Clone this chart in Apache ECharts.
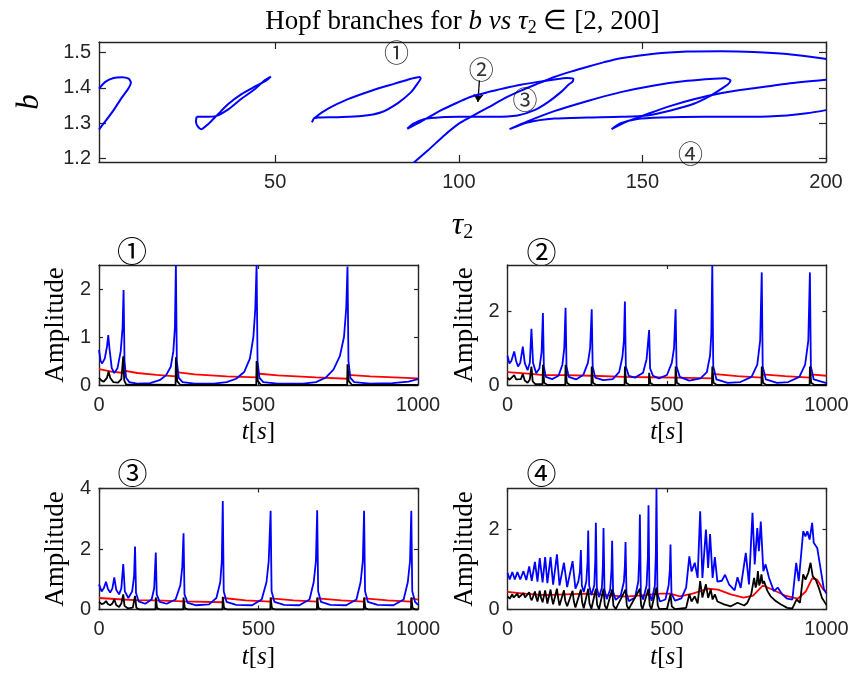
<!DOCTYPE html>
<html><head><meta charset="utf-8">
<script src="https://cdn.jsdelivr.net/npm/echarts@6/dist/echarts.min.js"></script>
<style>html,body{margin:0;padding:0;background:#fff}#c{width:855px;height:679px}</style>
</head><body><div id="c"></div>
<script>
// ---------- tick values ----------
const TOP_XTICKS = [50, 100, 150, 200];
const TOP_YTICKS = [1.2, 1.3, 1.4, 1.5];
const T_TICKS = [0, 500, 1000];
const AMP1_TICKS = [0, 1, 2];
const AMP2_TICKS = [0, 2];
const AMP3_TICKS = [0, 2, 4];
const AMP4_TICKS = [0, 2];

// ---------- Hopf branches (tau2, b) ----------
const loopA = [[2,1.398],[3.71,1.417],[5.98,1.428],[8.24,1.430],[10.05,1.426],[10.69,1.415],[10.05,1.399],[8.24,1.373],[5.98,1.337],[3.71,1.305],[2,1.282]];
const loopB = [[28.6,1.318],[30.9,1.318],[33.8,1.320],[37.2,1.339],[40.9,1.370],[44.5,1.397],[47.2,1.422],[48.8,1.432],[47.6,1.421],[44.5,1.404],[40.9,1.383],[37.2,1.354],[34.1,1.322],[31.8,1.298],[29.8,1.283],[28.9,1.291],[28.4,1.305],[28.6,1.318]];
const loopC = [[60.0,1.302],[60.6,1.314],[64.4,1.341],[69.8,1.368],[76.2,1.392],[82.5,1.412],[87.0,1.426],[89.3,1.431],[89.6,1.427],[88.6,1.410],[87.0,1.388],[83.4,1.357],[78.9,1.331],[73.5,1.320],[67.1,1.317],[61.7,1.316],[60.4,1.314]];
const steepArc = [[86.6,1.178],[91.6,1.223],[96.1,1.266],[100.2,1.300],[103.3,1.318],[107.9,1.344],[112.4,1.370],[116.9,1.392],[121.5,1.412],[126.0,1.431],[130.5,1.446],[135.1,1.460],[139.6,1.473],[144.1,1.484],[153.2,1.497],[162.2,1.503],[171.3,1.504],[180.3,1.502],[189.4,1.496],[200,1.482]];
const loop2 = [[85.96,1.284],[89.8,1.305],[95.2,1.337],[100.2,1.361],[103.3,1.375],[107.9,1.388],[112.4,1.399],[116.9,1.409],[121.5,1.417],[126.0,1.424],[129.6,1.428],[131.2,1.426],[131.0,1.418],[130.0,1.410],[127.8,1.388],[124.2,1.359],[120.6,1.337],[116.0,1.322],[109.7,1.318],[103.3,1.318],[100.2,1.318],[95.2,1.317],[90.7,1.312],[87.5,1.298],[85.96,1.284]];
const loop3 = [[113.8,1.283],[118.7,1.305],[126.0,1.334],[135.1,1.363],[144.1,1.388],[153.2,1.407],[162.2,1.420],[169.5,1.426],[172.5,1.427],[174.0,1.421],[173.3,1.410],[172.2,1.402],[168.6,1.378],[164.0,1.355],[157.7,1.336],[151.4,1.322],[144.1,1.318],[135.1,1.316],[126.0,1.313],[118.7,1.302],[113.8,1.283]];
const curve4 = [[200,1.423],[189.4,1.412],[180.3,1.399],[171.3,1.385],[164.0,1.368],[157.7,1.349],[151.4,1.326],[145.9,1.305],[141.6,1.283],[144.1,1.300],[148.6,1.312],[155.0,1.316],[166.8,1.318],[180.3,1.318],[189.4,1.322],[194.8,1.328],[200,1.337]];
const annot = [[83.0,1.499,'①'],[106.1,1.453,'②'],[118.0,1.366,'③'],[163.1,1.213,'④']];
const arrow2 = [[105.6,1.421],[105.2,1.36]];

// ---------- time series (t, amplitude) ----------
const blue1 = [[0,0.73],[5,0.5],[10,0.45],[18,0.55],[25,0.8],[29,1.04],[33,0.75],[40,0.35],[48,0.25],[58,0.35],[68,0.7],[74,1.2],[77,1.98],[80,0.5],[85,0.15],[95,0.06],[120,0.03],[160,0.04],[190,0.1],[210,0.2],[225,0.38],[233,0.7],[238,1.2],[241,2.5],[244,0.5],[250,0.15],[262,0.06],[300,0.03],[360,0.03],[400,0.06],[430,0.13],[455,0.27],[473,0.55],[484,1.0],[490,1.6],[494,2.5],[497,0.5],[503,0.15],[515,0.06],[560,0.03],[640,0.03],[680,0.06],[710,0.15],[735,0.32],[755,0.6],[768,1.0],[775,1.6],[779,2.47],[782,0.5],[788,0.15],[800,0.06],[850,0.03],[920,0.04],[970,0.07],[1000,0.12]];
const red1 = [[0,0.33],[40,0.28],[77,0.25],[78,0.3],[120,0.25],[180,0.21],[241,0.18],[242,0.27],[300,0.22],[400,0.18],[494,0.16],[495,0.24],[560,0.2],[680,0.16],[779,0.13],[780,0.21],[850,0.18],[1000,0.14]];
const black1 = [[0,0.15],[8,0.09],[15,0.07],[25,0.15],[30,0.28],[35,0.15],[45,0.06],[60,0.05],[70,0.12],[76,0.6],[79,0.1],[85,0.01],[240,0],[241,0.58],[245,0.08],[255,0],[493,0],[494,0.5],[498,0.08],[508,0],[778,0],[779,0.43],[783,0.08],[793,0],[1000,0]];

const blue2 = [[0,0.79],[6,0.58],[12,0.65],[21,0.91],[27,0.65],[33,0.5],[40,0.6],[48,1.04],[54,0.6],[63,0.4],[70,0.6],[75,1.52],[80,0.6],[90,0.32],[100,0.45],[107,0.9],[111,1.95],[114,0.5],[120,0.22],[140,0.16],[160,0.25],[172,0.55],[178,1.0],[182,2.09],[185,0.5],[192,0.22],[215,0.15],[238,0.28],[252,0.6],[259,1.0],[264,2.05],[267,0.5],[275,0.2],[300,0.13],[330,0.16],[350,0.35],[360,0.75],[365,1.2],[368,2.26],[371,0.5],[380,0.25],[400,0.2],[425,0.33],[436,0.7],[444,1.49],[447,0.45],[456,0.25],[475,0.18],[500,0.27],[515,0.6],[522,1.0],[527,2.05],[530,0.5],[540,0.22],[570,0.12],[605,0.18],[625,0.35],[635,0.8],[639,1.4],[642,3.25],[645,0.5],[655,0.15],[690,0.06],[730,0.08],[765,0.22],[783,0.55],[792,1.2],[797,3.05],[800,0.5],[810,0.15],[845,0.06],[880,0.08],[915,0.22],[933,0.55],[943,1.2],[948,3.05],[951,0.5],[960,0.15],[1000,0.05]];
const red2 = [[0,0.35],[75,0.3],[111,0.27],[112,0.3],[182,0.27],[183,0.28],[264,0.25],[368,0.22],[369,0.25],[444,0.21],[527,0.2],[642,0.18],[643,0.3],[720,0.24],[797,0.2],[798,0.29],[870,0.24],[948,0.2],[949,0.29],[1000,0.25]];
const black2 = [[0,0.2],[6,0.14],[12,0.16],[21,0.27],[27,0.15],[33,0.1],[42,0.16],[48,0.3],[54,0.12],[63,0.06],[70,0.15],[75,0.5],[79,0.1],[88,0.02],[110,0.02],[111,0.55],[115,0.06],[125,0],[181,0],[182,0.55],[186,0.06],[196,0],[263,0],[264,0.5],[268,0.06],[278,0],[367,0],[368,0.5],[372,0.06],[382,0],[443,0],[444,0.33],[448,0.05],[458,0],[526,0],[527,0.5],[531,0.06],[541,0],[641,0],[642,0.5],[646,0.06],[656,0],[796,0],[797,0.5],[801,0.06],[811,0],[947,0],[948,0.5],[952,0.06],[962,0],[1000,0]];

const blue3 = [[0,0.83],[8,0.6],[15,0.7],[22,0.92],[28,0.68],[35,0.56],[42,0.7],[48,1.06],[54,0.65],[63,0.5],[70,0.7],[76,1.5],[81,0.6],[92,0.38],[104,0.6],[110,1.1],[113,2.08],[116,0.55],[124,0.27],[145,0.19],[165,0.33],[173,0.7],[178,1.88],[181,0.5],[190,0.25],[212,0.19],[240,0.33],[255,0.8],[261,1.4],[265,2.52],[268,0.5],[278,0.22],[305,0.14],[345,0.17],[368,0.38],[380,0.9],[385,1.6],[388,3.59],[391,0.6],[400,0.25],[430,0.15],[480,0.14],[510,0.33],[525,0.9],[532,1.6],[538,3.26],[541,0.6],[550,0.25],[580,0.15],[628,0.14],[660,0.33],[673,0.9],[680,1.6],[684,3.28],[687,0.6],[696,0.25],[725,0.15],[775,0.14],[807,0.33],[820,0.9],[827,1.6],[831,3.26],[834,0.6],[843,0.25],[873,0.15],[923,0.14],[955,0.33],[968,0.9],[975,1.6],[979,3.26],[982,0.6],[991,0.25],[1000,0.15]];
const red3 = [[0,0.38],[76,0.33],[113,0.31],[114,0.35],[178,0.3],[179,0.31],[265,0.27],[266,0.3],[388,0.24],[389,0.38],[460,0.3],[538,0.26],[539,0.37],[610,0.3],[684,0.26],[685,0.37],[760,0.3],[831,0.26],[832,0.37],[905,0.3],[979,0.26],[980,0.37],[1000,0.33]];
const black3 = [[0,0.25],[8,0.18],[15,0.2],[22,0.28],[28,0.18],[35,0.14],[42,0.2],[48,0.33],[54,0.15],[63,0.08],[70,0.2],[76,0.5],[80,0.12],[90,0.04],[106,0.06],[113,0.45],[117,0.06],[127,0],[177,0],[178,0.4],[182,0.05],[192,0],[264,0],[265,0.4],[269,0.05],[279,0],[387,0],[388,0.42],[392,0.05],[402,0],[537,0],[538,0.4],[542,0.05],[552,0],[683,0],[684,0.4],[688,0.05],[698,0],[830,0],[831,0.4],[835,0.05],[845,0],[978,0],[979,0.4],[983,0.05],[993,0],[1000,0]];

const blue4 = [[0,0.92],[7,0.75],[15,0.94],[23,0.75],[31,0.94],[40,0.75],[50,0.96],[59,0.74],[68,1.08],[76,0.72],[86,1.19],[94,0.7],[101,1.29],[110,0.68],[118,1.31],[125,0.66],[135,1.31],[143,0.62],[155,1.38],[163,0.6],[177,1.17],[187,0.56],[204,1.21],[213,0.52],[222,0.7],[227,0.95],[230,1.49],[233,0.6],[239,0.44],[247,0.7],[251,1.2],[253,1.98],[256,0.6],[263,0.36],[272,0.6],[275,1.2],[277,2.17],[280,0.55],[287,0.31],[296,0.55],[299,1.1],[301,2.04],[304,0.5],[311,0.26],[322,0.5],[326,1.0],[328,1.72],[331,0.45],[339,0.24],[355,0.35],[365,0.7],[368,1.1],[370,1.69],[373,0.4],[380,0.21],[400,0.3],[410,0.7],[413,1.3],[415,2.38],[418,0.4],[425,0.25],[436,0.6],[440,1.3],[442,2.61],[445,0.4],[452,0.22],[462,0.6],[465,1.4],[467,3.03],[470,0.4],[478,0.2],[495,0.25],[505,0.6],[509,1.0],[511,1.63],[514,0.4],[525,0.22],[545,0.28],[560,0.55],[570,1.33],[577,0.95],[587,1.17],[596,0.79],[604,2.46],[611,0.79],[622,2.0],[629,1.04],[635,1.89],[643,0.79],[650,1.31],[658,0.7],[672,0.72],[682,0.87],[695,0.62],[712,0.48],[721,0.81],[731,0.54],[747,1.42],[757,0.63],[768,2.42],[775,1.13],[783,2.04],[788,1.46],[794,2.2],[802,0.96],[809,1.13],[820,0.79],[835,0.46],[847,0.55],[861,0.38],[877,0.27],[893,0.25],[905,1.17],[913,0.71],[927,1.96],[934,1.83],[940,1.96],[947,1.75],[955,2.17],[960,1.67],[971,1.54],[981,1.04],[992,0.5],[1000,0.4]];
const red4 = [[0,0.44],[60,0.39],[120,0.36],[180,0.38],[250,0.4],[310,0.36],[370,0.32],[430,0.36],[480,0.4],[510,0.4],[540,0.33],[580,0.4],[630,0.52],[660,0.5],[700,0.38],[740,0.3],[770,0.35],[800,0.6],[830,0.5],[870,0.35],[910,0.27],[935,0.45],[955,0.78],[970,0.75],[990,0.5],[1000,0.44]];
const black4 = [[0,0.33],[4,0.28],[7,0.27],[15,0.38],[19,0.3],[23,0.27],[31,0.4],[35,0.3],[40,0.26],[50,0.41],[55,0.3],[59,0.25],[68,0.43],[72,0.3],[76,0.23],[86,0.45],[90,0.3],[94,0.2],[101,0.47],[105,0.3],[110,0.18],[118,0.48],[122,0.3],[125,0.15],[135,0.5],[139,0.28],[143,0.13],[155,0.52],[159,0.28],[163,0.1],[177,0.48],[181,0.22],[187,0.08],[204,0.47],[208,0.2],[213,0.05],[230,0.5],[234,0.18],[239,0.03],[253,0.52],[257,0.15],[263,0.02],[277,0.52],[281,0.12],[287,0.01],[301,0.52],[305,0.1],[311,0.01],[328,0.5],[332,0.1],[339,0.01],[370,0.5],[374,0.1],[380,0.01],[415,0.52],[419,0.1],[423,0.01],[442,0.52],[446,0.1],[451,0.01],[467,0.55],[471,0.1],[476,0.01],[500,0.02],[511,0.38],[515,0.08],[525,0.01],[560,0.04],[570,0.38],[577,0.2],[587,0.33],[596,0.15],[604,0.71],[611,0.3],[622,0.63],[629,0.29],[637,0.5],[643,0.25],[650,0.38],[658,0.2],[679,0.13],[700,0.08],[721,0.17],[742,0.1],[752,0.17],[764,0.38],[773,0.79],[778,0.55],[781,0.63],[785,0.96],[789,0.6],[792,0.67],[796,0.88],[800,0.65],[804,0.71],[815,0.46],[825,0.33],[841,0.21],[856,0.13],[877,0.04],[893,0.03],[906,0.25],[917,0.17],[927,0.88],[934,0.75],[943,0.92],[950,1.17],[957,0.83],[966,0.75],[976,0.54],[986,0.29],[1000,0.11]];

// ---------- layout ----------
const AX = '#262626';
const SANS = 'Liberation Sans, Arial, sans-serif';
const SERIF = 'Liberation Serif, Times New Roman, serif';
const CJK = 'Noto Sans CJK JP';
const grids = [
  {left: 99, top: 42, width: 727, height: 120},
  {left: 99, top: 265, width: 319, height: 120},
  {left: 507.5, top: 265, width: 319, height: 120},
  {left: 99, top: 488.5, width: 319, height: 121},
  {left: 507.5, top: 488.5, width: 319, height: 121}
];
const axisDefs = [
  {xmin: 2, xmax: 200, xt: TOP_XTICKS, ymin: 1.19, ymax: 1.53, yt: TOP_YTICKS, tl: 7, yfmt: v => v.toFixed(1)},
  {xmin: 0, xmax: 1000, xt: T_TICKS, ymin: 0, ymax: 2.5, yt: AMP1_TICKS, tl: 4},
  {xmin: 0, xmax: 1000, xt: T_TICKS, ymin: 0, ymax: 3.25, yt: AMP2_TICKS, tl: 4},
  {xmin: 0, xmax: 1000, xt: T_TICKS, ymin: 0, ymax: 4, yt: AMP3_TICKS, tl: 4},
  {xmin: 0, xmax: 1000, xt: T_TICKS, ymin: 0, ymax: 3.03, yt: AMP4_TICKS, tl: 4}
];
const xAxes = [], yAxes = [];
axisDefs.forEach((d, gi) => {
  const line = {show: true, onZero: false, lineStyle: {color: AX, width: 1.4}};
  const tick = (vals) => ({show: true, inside: true, length: d.tl, customValues: vals, lineStyle: {color: AX, width: 1.2}});
  xAxes.push({gridIndex: gi, type: 'value', min: d.xmin, max: d.xmax, position: 'bottom',
    axisLine: line, axisTick: tick(d.xt), splitLine: {show: false},
    axisLabel: {customValues: d.xt, color: AX, fontSize: 20, fontFamily: SANS, margin: 10, formatter: v => String(v)}});
  xAxes.push({gridIndex: gi, type: 'value', min: d.xmin, max: d.xmax, position: 'top',
    axisLine: line, axisTick: tick(d.xt), splitLine: {show: false}, axisLabel: {show: false}});
  yAxes.push({gridIndex: gi, type: 'value', min: d.ymin, max: d.ymax, position: 'left',
    axisLine: line, axisTick: tick(d.yt), splitLine: {show: false},
    axisLabel: {customValues: d.yt, color: AX, fontSize: 20, fontFamily: SANS, margin: 8, formatter: d.yfmt || (v => String(v))}});
  yAxes.push({gridIndex: gi, type: 'value', min: d.ymin, max: d.ymax, position: 'right',
    axisLine: line, axisTick: tick(d.yt), splitLine: {show: false}, axisLabel: {show: false}});
});

const series = [];
function ln(gi, data, color, width, smooth, z) {
  series.push({type: 'line', xAxisIndex: gi * 2, yAxisIndex: gi * 2, data: data, showSymbol: false, symbol: 'none',
    smooth: smooth, lineStyle: {color: color, width: width}, z: z, silent: true, animation: false, clip: true});
}
[loopA, loopB, loopC, steepArc, loop2, loop3, curve4].forEach(d => ln(0, d, '#0000ff', 2, 0.25, 2));
const subs = [[blue1, red1, black1], [blue2, red2, black2], [blue3, red3, black3], [blue4, red4, black4]];
subs.forEach((s, i) => {
  ln(i + 1, s[1], '#ff0000', 1.8, false, 2);
  ln(i + 1, s[0], '#0000ff', 1.8, false, 3);
  ln(i + 1, s[2], '#000000', 1.8, false, 4);
});
series.push({type: 'scatter', xAxisIndex: 0, yAxisIndex: 0, data: annot, symbolSize: 0, silent: true, animation: false,
  label: {show: true, position: 'inside', formatter: p => p.value[2], fontFamily: CJK, fontSize: 25, color: '#000'}});
series.push({type: 'lines', coordinateSystem: 'cartesian2d', xAxisIndex: 0, yAxisIndex: 0, silent: true, animation: false,
  symbol: ['none', 'arrow'], symbolSize: 8, lineStyle: {color: '#000', width: 1.3, opacity: 1},
  data: [{coords: arrow2}]});

const rich = {
  r: {fontFamily: SERIF, fontSize: 27, color: '#000'},
  i: {fontFamily: SERIF, fontSize: 27, fontStyle: 'italic', color: '#000'},
  s: {fontFamily: SERIF, fontSize: 18, color: '#000', padding: [13, 0, 0, 0]}
};
function txt(x, y, text, opts) {
  return Object.assign({type: 'text', x: x, y: y, silent: true,
    style: Object.assign({text: text, align: 'center', verticalAlign: 'middle', fill: '#000'}, opts.style || {})}, opts.el || {});
}
const graphics = [
  txt(462.5, 22, '{r|Hopf branches for }{i|b vs τ}{s|2}{r| ∈ [2, 200]}', {style: {rich: rich}}),
  txt(30, 102, 'b', {style: {font: 'italic 31px ' + SERIF}, el: {rotation: Math.PI / 2}}),
  txt(462.5, 226, '{i|τ}{s|2}', {style: {rich: {i: {fontFamily: SERIF, fontSize: 32, fontStyle: 'italic'}, s: {fontFamily: SERIF, fontSize: 20, padding: [14, 0, 0, 0]}}}}),
];
const ampPos = [[56, 325], [465, 325], [56, 549], [465, 549]];
const tsPos = [[258.5, 432], [667, 432], [258.5, 657], [667, 657]];
const numPos = [[132, 251, '①'], [541.5, 252, '②'], [132.5, 473, '③'], [541.5, 473, '④']];
const tsRich = {i: {fontFamily: SERIF, fontSize: 25, fontStyle: 'italic'}, r: {fontFamily: SERIF, fontSize: 25}};
ampPos.forEach(p => graphics.push(txt(p[0], p[1], 'Amplitude', {style: {font: '27px ' + SERIF}, el: {rotation: Math.PI / 2}})));
tsPos.forEach(p => graphics.push(txt(p[0], p[1], '{i|t}{r|[}{i|s}{r|]}', {style: {rich: tsRich}})));
numPos.forEach(p => graphics.push(txt(p[0], p[1], p[2], {style: {font: '30px ' + CJK}})));

const chart = echarts.init(document.getElementById('c'), null, {renderer: 'canvas'});
chart.setOption({
  animation: false,
  backgroundColor: '#fff',
  grid: grids,
  xAxis: xAxes,
  yAxis: yAxes,
  series: series,
  graphic: graphics
});
</script></body></html>
